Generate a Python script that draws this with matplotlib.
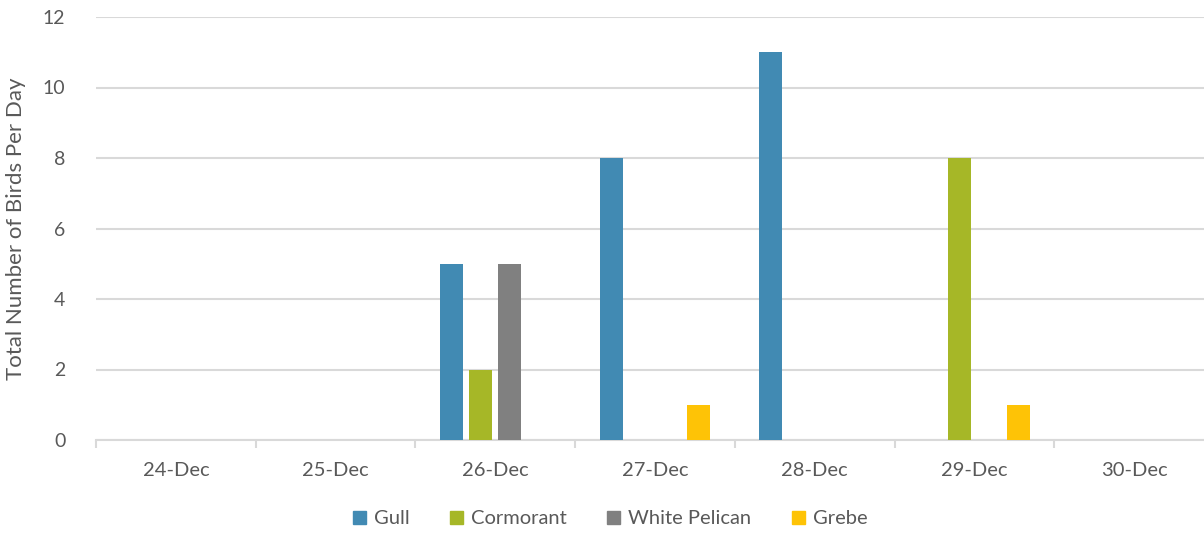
import numpy as np
import matplotlib
matplotlib.use("Agg")
import matplotlib.pyplot as plt
from matplotlib.patches import Patch

plt.rcParams['font.family'] = ['Lato', 'DejaVu Sans']

days = ["24-Dec", "25-Dec", "26-Dec", "27-Dec", "28-Dec", "29-Dec", "30-Dec"]
gull = [0, 0, 5, 8, 11, 0, 0]
cormorant = [0, 0, 2, 0, 0, 8, 0]
pelican = [0, 0, 5, 0, 0, 0, 0]
grebe = [0, 0, 0, 1, 0, 1, 0]

series = [("Gull", gull, "#418AB3"),
          ("Cormorant", cormorant, "#A6B727"),
          ("White Pelican", pelican, "#808080"),
          ("Grebe", grebe, "#FEC306")]

txt = "#595959"
grid = "#D9D9D9"

fig = plt.figure(figsize=(12.04, 5.35), dpi=100)
ax = fig.add_axes([96/1204, 1-440/535, 1118/1204, 423/535])

x = np.arange(len(days))
w = 0.144
step = 0.183
for i, (name, vals, col) in enumerate(series):
    ax.bar(x + (i - 1.5)*step, vals, width=w, color=col, zorder=3)

ax.set_xlim(-0.5, len(days) - 0.5)
ax.set_ylim(0, 12)
ax.set_yticks(range(0, 13, 2))
ax.yaxis.grid(True, color=grid, linewidth=1.5, zorder=0)
ax.set_axisbelow(True)

ax.set_xticks(np.arange(-0.5, len(days), 1.0))
ax.set_xticklabels([])
ax.set_xticks(x, minor=True)
ax.set_xticklabels(days, minor=True)
ax.tick_params(axis='x', which='major', length=6, color=grid, width=1.5)
ax.tick_params(axis='x', which='minor', length=0, pad=16, labelsize=14.5, labelcolor=txt)
ax.tick_params(axis='y', length=0, pad=22, labelsize=14, labelcolor=txt)

for s in ["top", "right", "left"]:
    ax.spines[s].set_visible(False)
ax.spines["bottom"].set_color(grid)
ax.spines["bottom"].set_linewidth(1.5)

ax.set_ylabel("Total Number of Birds Per Day", fontsize=16, color=txt, labelpad=12)

handles = [Patch(color=c, label=n) for n, v, c in series]
fig.legend(handles=handles, loc="center", bbox_to_anchor=(610/1204, 1-519/535),
           ncol=4, frameon=False, fontsize=14.5, labelcolor=txt,
           handlelength=0.65, handleheight=0.65, handletextpad=0.4, columnspacing=2.0)

fig.savefig("out.png", dpi=100)
